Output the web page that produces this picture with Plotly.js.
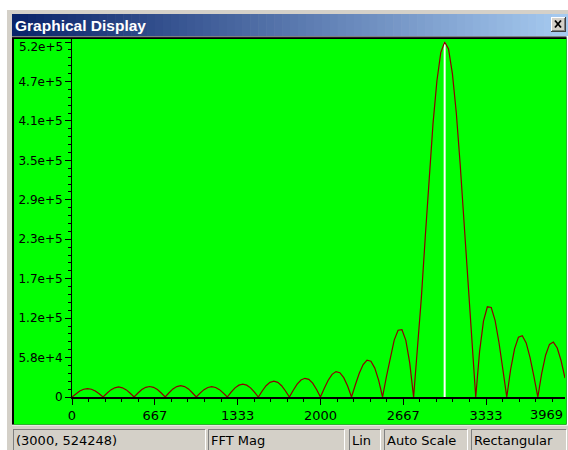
<!DOCTYPE html>
<html>
<head>
<meta charset="utf-8">
<script src="https://cdn.plot.ly/plotly-3.0.1.min.js"></script>
<style>
html,body{margin:0;padding:0;background:#ffffff;}
#chart{width:568px;height:450px;}
</style>
</head>
<body>
<div id="chart"></div>
<script>
// ---------------- data ----------------
const windowTitle = 'Graphical Display';

const freqHz = [0, 31.25, 62.5, 93.75, 125, 156.25, 187.5, 218.75, 250, 281.25, 312.5, 343.75, 375, 406.25, 437.5, 468.75,
  500, 531.25, 562.5, 593.75, 625, 656.25, 687.5, 718.75, 750, 781.25, 812.5, 843.75, 875, 906.25, 937.5, 968.75,
  1000, 1031.25, 1062.5, 1093.75, 1125, 1156.25, 1187.5, 1218.75, 1250, 1281.25, 1312.5, 1343.75, 1375, 1406.25, 1437.5, 1468.75,
  1500, 1531.25, 1562.5, 1593.75, 1625, 1656.25, 1687.5, 1718.75, 1750, 1781.25, 1812.5, 1843.75, 1875, 1906.25, 1937.5, 1968.75,
  2000, 2031.25, 2062.5, 2093.75, 2125, 2156.25, 2187.5, 2218.75, 2250, 2281.25, 2312.5, 2343.75, 2375, 2406.25, 2437.5, 2468.75,
  2500, 2531.25, 2562.5, 2593.75, 2625, 2656.25, 2687.5, 2718.75, 2750, 2781.25, 2812.5, 2843.75, 2875, 2906.25, 2937.5, 2968.75,
  3000, 3031.25, 3062.5, 3093.75, 3125, 3156.25, 3187.5, 3218.75, 3250, 3281.25, 3312.5, 3343.75, 3375, 3406.25, 3437.5, 3468.75,
  3500, 3531.25, 3562.5, 3593.75, 3625, 3656.25, 3687.5, 3718.75, 3750, 3781.25, 3812.5, 3843.75, 3875, 3906.25, 3937.5, 3968.75];

const fftMag = [
  0, 4800, 8900, 11500, 12500, 11500, 8900, 4800,
  0, 5600, 10500, 13600, 14800, 13600, 10500, 5600,
  0, 5900, 11000, 14300, 15500, 14300, 11000, 5900,
  0, 6300, 11900, 15400, 16700, 15400, 11900, 6300,
  0, 5800, 10900, 14100, 15300, 14100, 10900, 5800,
  0, 7200, 13500, 17500, 19000, 17500, 13500, 7200,
  0, 8900, 16700, 21600, 23500, 21600, 16700, 8900,
  0, 10000, 19000, 25000, 27600, 26000, 20500, 11000,
  0, 13000, 24800, 33500, 37500, 35900, 28600, 16100,
  0, 18100, 35000, 47900, 54400, 52900, 42700, 24500,
  0, 30200, 59800, 84100, 98600, 99400, 83700, 50300,
  0, 68200, 146800, 235900, 325000, 403700, 466600, 508500,
  524248, 513800, 477100, 419400, 343400, 256900, 167800, 81300,
  0, 67400, 112100, 133200, 132200, 112700, 80100, 40500,
  0, 40800, 71200, 88200, 90600, 79800, 58300, 30200,
  0, 34800, 61700, 77700, 81100, 72300, 53500, 28000];

const cursorFreq = 3000;

const xTickVals = [0, 666.67, 1333.33, 2000, 2666.67, 3333.33];
const xTickText = ['0', '667', '1333', '2000', '2667', '3333'];
const xEndLabel = '3969';

const yTickVals = [0, 58250, 116499, 174749, 232999, 291249, 349499, 407748, 465998, 524248];
const yTickText = ['0', '5.8e+4', '1.2e+5', '1.7e+5', '2.3e+5', '2.9e+5', '3.5e+5', '4.1e+5', '4.7e+5', '5.2e+5'];

const statusFields = ['(3000, 524248)', 'FFT Mag', 'Lin', 'Auto Scale', 'Rectangular'];

// ---------------- layout geometry (pixels) ----------------
const L = 72, R = 565, T = 39, B = 397;
const W = R - L, H = B - T;
const px = x => (x - L) / W;
const py = y => (B - y) / H;

function rectPx(x0, y0, x1, y1, fill, extra) {
  return Object.assign({type: 'rect', xref: 'paper', yref: 'paper', layer: 'below',
    x0: px(x0), x1: px(x1), y0: py(y1), y1: py(y0), fillcolor: fill, line: {width: 0}}, extra || {});
}
function linePx(x0, y0, x1, y1, color, w) {
  return {type: 'line', xref: 'paper', yref: 'paper', layer: 'below',
    x0: px(x0), x1: px(x1), y0: py(y0), y1: py(y1), line: {color: color, width: w}};
}

const shapes = [];
// window body
shapes.push(rectPx(6, 9, 568, 450, '#d4d0c8'));
shapes.push(linePx(6, 9.5, 568, 9.5, '#ffffff', 1));
shapes.push(linePx(6.5, 9, 6.5, 450, '#ffffff', 1));
// title bar gradient
const c0 = [10, 36, 106], c1 = [166, 202, 240];
const nStripes = 70, tbX0 = 12, tbX1 = 568;
for (let i = 0; i < nStripes; i++) {
  const t = i / (nStripes - 1);
  const c = c0.map((v, k) => Math.round(v + (c1[k] - v) * t));
  const xa = tbX0 + (tbX1 - tbX0) * i / nStripes;
  const xb = tbX0 + (tbX1 - tbX0) * (i + 1) / nStripes + 0.6;
  shapes.push(rectPx(xa, 14, xb, 36, 'rgb(' + c.join(',') + ')'));
}
// close button
shapes.push(rectPx(551, 17, 566, 32, '#404040'));
shapes.push(rectPx(551, 17, 565, 31, '#ffffff'));
shapes.push(rectPx(552, 18, 565, 31, '#808080'));
shapes.push(rectPx(552, 18, 564, 30, '#d4d0c8'));
shapes.push(linePx(555, 20.5, 561, 27.5, '#000000', 1.8));
shapes.push(linePx(561, 20.5, 555, 27.5, '#000000', 1.8));
// plot frame (sunken) and green area
shapes.push(rectPx(12, 36, 568, 425.5, '#ffffff'));
shapes.push(rectPx(12, 36, 566.5, 424.5, '#808080'));
shapes.push(rectPx(12, 37.3, 566.5, 424.5, '#000000'));
shapes.push(rectPx(14, 39, 566.5, 424.5, '#00ff00'));
// status bar panels
const panels = [[13, 205], [208, 344], [349, 380], [384, 467], [471, 566]];
panels.forEach(p => {
  shapes.push(linePx(p[0], 429.5, p[1], 429.5, '#808080', 1));
  shapes.push(linePx(p[0] + 0.5, 429.5, p[0] + 0.5, 450, '#808080', 1));
  shapes.push(linePx(p[1] + 0.5, 430, p[1] + 0.5, 450, '#ffffff', 1));
});
// cursor line
shapes.push({type: 'line', xref: 'x', yref: 'paper', layer: 'below',
  x0: cursorFreq, x1: cursorFreq, y0: 0, y1: 0.99, line: {color: '#ffffff', width: 2}});

const annotations = [];
annotations.push({xref: 'paper', yref: 'paper', x: px(13), y: py(25.5), xanchor: 'left', yanchor: 'middle',
  text: '<b>' + windowTitle + '</b>', showarrow: false,
  font: {family: 'Liberation Sans, Arial, sans-serif', size: 15.5, color: '#ffffff'}});
annotations.push({xref: 'paper', yref: 'paper', x: px(65), y: py(47), xanchor: 'right', yanchor: 'middle',
  text: yTickText[yTickText.length - 1], showarrow: false,
  font: {family: 'DejaVu Sans, sans-serif', size: 12, color: '#000000'}});
annotations.push({xref: 'paper', yref: 'paper', x: px(565), y: py(414), xanchor: 'right', yanchor: 'middle',
  text: xEndLabel, showarrow: false,
  font: {family: 'DejaVu Sans, sans-serif', size: 13, color: '#000000'}});
statusFields.forEach((s, i) => {
  annotations.push({xref: 'paper', yref: 'paper', x: px(panels[i][0] + 0.5), y: py(440.5), xanchor: 'left', yanchor: 'middle',
    text: s, showarrow: false,
    font: {family: 'DejaVu Sans, sans-serif', size: 13, color: '#000000'}});
});

const yAxisText = yTickText.slice(0, -1).concat(['']);

const trace = {
  type: 'scatter', mode: 'lines', x: freqHz, y: fftMag,
  line: {color: '#8c0000', width: 1.2}, hoverinfo: 'skip'
};

const layout = {
  width: 568, height: 450,
  margin: {l: L, r: 568 - R, t: T, b: 450 - B, pad: 0},
  paper_bgcolor: '#ffffff', plot_bgcolor: '#00ff00',
  showlegend: false,
  xaxis: {
    range: [0, 3968.75], showgrid: false, zeroline: false,
    showline: true, linecolor: '#000000', linewidth: 1.5,
    ticks: 'outside', ticklen: 6, tickwidth: 1, tickcolor: '#000000',
    tickmode: 'array', tickvals: xTickVals, ticktext: xTickText,
    tickfont: {family: 'DejaVu Sans, sans-serif', size: 13, color: '#000000'},
    minor: {tickmode: 'linear', tick0: 0, dtick: 133.333, ticks: 'outside', ticklen: 3, tickcolor: '#000000', tickwidth: 1},
    fixedrange: true
  },
  yaxis: {
    range: [0, 528678], showgrid: false, zeroline: false,
    showline: true, linecolor: '#000000', linewidth: 1,
    ticks: 'outside', ticklen: 6, tickwidth: 1, tickcolor: '#000000',
    tickmode: 'array', tickvals: yTickVals, ticktext: yAxisText,
    tickfont: {family: 'DejaVu Sans, sans-serif', size: 12, color: '#000000'},
    minor: {tickmode: 'linear', tick0: 0, dtick: 11650, ticks: 'outside', ticklen: 3, tickcolor: '#000000', tickwidth: 1},
    fixedrange: true
  },
  shapes: shapes,
  annotations: annotations
};

Plotly.newPlot('chart', [trace], layout, {displayModeBar: false, staticPlot: true});
</script>
</body>
</html>
